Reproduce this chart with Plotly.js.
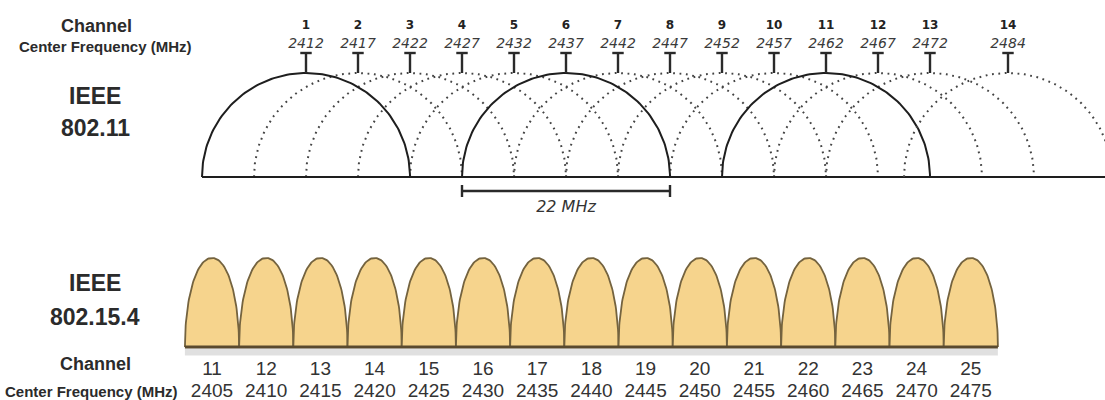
<!DOCTYPE html>
<html><head><meta charset="utf-8">
<script src="https://cdn.plot.ly/plotly-3.0.1.min.js"></script>
<style>html,body{margin:0;padding:0;background:#fff}</style>
</head><body>
<div id="chart" style="width:1105px;height:400px"></div>
<script>
// ---------- DATA ----------
// IEEE 802.11 (Wi-Fi) 2.4 GHz channels
const wifiChannels = [1, 2, 3, 4, 5, 6, 7, 8, 9, 10, 11, 12, 13, 14];
const wifiFreqs = [2412, 2417, 2422, 2427, 2432, 2437, 2442, 2447, 2452, 2457, 2462, 2467, 2472, 2484];
const wifiSolidChannels = [1, 6, 11];
const wifiHalfWidth = 10;          // drawn half-width of each channel arc (MHz)
const wifiBandLabel = '22 MHz';
const wifiBandChannel = 6;
// IEEE 802.15.4 channels
const zbChannels = [11, 12, 13, 14, 15, 16, 17, 18, 19, 20, 21, 22, 23, 24, 25];
const zbFreqs = [2405, 2410, 2415, 2420, 2425, 2430, 2435, 2440, 2445, 2450, 2455, 2460, 2465, 2470, 2475];
const zbHalfWidth = 2.5;           // MHz

// ---------- LAYOUT CONSTANTS (pixels) ----------
const W = 1105, H = 400;
const splitPx = 220;
const topPx0 = 306, topPxPerMHz = 10.4, topBasePx = 177, topUnitPx = 104;
const botPx0 = 212, botPxPerMHz = 10.84, botBasePx = 347, botUnitPx = 89;
const ch14Spacing = 7.5; // channel 14 drawn 1.5 spacings after channel 13 (compressed gap)

const xTopRange = [wifiFreqs[0] - topPx0 / topPxPerMHz, wifiFreqs[0] + (W - topPx0) / topPxPerMHz];
const last = wifiFreqs.length - 1;
const ch14Shift = wifiFreqs[last] - (wifiFreqs[last - 1] + ch14Spacing);
const xTop14Range = xTopRange.map(v => v + ch14Shift);
const yTopRange = [(topBasePx - splitPx) / topUnitPx, topBasePx / topUnitPx];
const xBotRange = [zbFreqs[0] - botPx0 / botPxPerMHz, zbFreqs[0] + (W - botPx0) / botPxPerMHz];
const yBotRange = [(botBasePx - H) / botUnitPx, (botBasePx - splitPx) / botUnitPx];
const pyTop = px => (topBasePx - px) / topUnitPx;
const pyBot = px => (botBasePx - px) / botUnitPx;

function arc(fc, hw) {
  const xs = [], ys = [];
  for (let i = 0; i <= 120; i++) {
    const t = Math.PI * (1 - i / 120);
    xs.push(fc + hw * Math.cos(t));
    ys.push(Math.sin(t));
  }
  return [xs, ys];
}
function bump(fc, hw) {
  const xs = [], ys = [];
  for (let i = 0; i <= 80; i++) {
    const t = Math.PI * (1 - i / 80);
    const u = Math.cos(t);
    xs.push(fc + hw * u);
    ys.push(Math.pow(Math.max(0, 1 - Math.pow(Math.abs(u), 2.1)), 0.5));
  }
  return [xs, ys];
}

const traces = [];

// --- Wi-Fi arcs ---
function arcTrace(idxs, axis, solid) {
  const xs = [], ys = [];
  idxs.forEach(i => { const [ax, ay] = arc(wifiFreqs[i], wifiHalfWidth); xs.push(...ax, null); ys.push(...ay, null); });
  return { x: xs, y: ys, xaxis: axis, yaxis: 'y', mode: 'lines', hoverinfo: 'skip',
    line: solid ? { color: '#1e1e1e', width: 2 } : { color: '#444', width: 2, dash: '1.8px,4.6px' } };
}
const idxMain = wifiChannels.map((c, i) => i).filter(i => i < last);
const dottedMain = idxMain.filter(i => !wifiSolidChannels.includes(wifiChannels[i]));
const solidMain = idxMain.filter(i => wifiSolidChannels.includes(wifiChannels[i]));
traces.push(arcTrace(dottedMain, 'x', false));
traces.push(arcTrace([last], 'x3', false));
traces.push(arcTrace(solidMain, 'x', true));

// baseline
traces.push({ x: [wifiFreqs[0] - wifiHalfWidth, xTopRange[1] + 2], y: [0, 0], xaxis: 'x', yaxis: 'y',
  mode: 'lines', line: { color: '#1e1e1e', width: 2.2 }, hoverinfo: 'skip' });

// T markers
function tTrace(idxs, axis) {
  const xs = [], ys = [];
  const top = pyTop(53), capHalf = 0.55;
  idxs.forEach(i => {
    const f = wifiFreqs[i];
    xs.push(f, f, null, f - capHalf, f + capHalf, null);
    ys.push(1, top, null, top, top, null);
  });
  return { x: xs, y: ys, xaxis: axis, yaxis: 'y', mode: 'lines', line: { color: '#2a2a2a', width: 2.4 }, hoverinfo: 'skip' };
}
traces.push(tTrace(idxMain, 'x'));
traces.push(tTrace([last], 'x3'));

// labels
function labTrace(idxs, axis) {
  return [
    { x: idxs.map(i => wifiFreqs[i]), y: idxs.map(() => pyTop(25.5)), text: idxs.map(i => String(wifiChannels[i])),
      xaxis: axis, yaxis: 'y', mode: 'text', cliponaxis: false, hoverinfo: 'skip',
      textfont: { family: 'DejaVu Sans', size: 12, color: '#222', weight: 'bold' } },
    { x: idxs.map(i => wifiFreqs[i]), y: idxs.map(() => pyTop(44)), text: idxs.map(i => String(wifiFreqs[i])),
      xaxis: axis, yaxis: 'y', mode: 'text', cliponaxis: false, hoverinfo: 'skip',
      textfont: { family: 'DejaVu Sans', size: 14, color: '#3a3a3a', style: 'italic' } }
  ];
}
traces.push(...labTrace(idxMain, 'x'));
traces.push(...labTrace([last], 'x3'));

// 22 MHz bracket
const bandF = wifiFreqs[wifiChannels.indexOf(wifiBandChannel)];
const by = pyTop(191), bc = 6 / topUnitPx;
traces.push({ x: [bandF - wifiHalfWidth, bandF + wifiHalfWidth, null, bandF - wifiHalfWidth, bandF - wifiHalfWidth, null, bandF + wifiHalfWidth, bandF + wifiHalfWidth],
  y: [by, by, null, by - bc, by + bc, null, by - bc, by + bc], xaxis: 'x', yaxis: 'y', mode: 'lines',
  line: { color: '#2a2a2a', width: 2.4 }, hoverinfo: 'skip' });
traces.push({ x: [bandF], y: [pyTop(208)], text: [wifiBandLabel], mode: 'text', xaxis: 'x', yaxis: 'y', cliponaxis: false,
  textfont: { family: 'DejaVu Sans', size: 16, color: '#333', style: 'italic' }, hoverinfo: 'skip' });

// --- 802.15.4 ---
const zbLeft = zbFreqs[0] - zbHalfWidth, zbRight = zbFreqs[zbFreqs.length - 1] + zbHalfWidth;
traces.push({ x: [zbLeft, zbRight], y: [pyBot(352), pyBot(352)], xaxis: 'x2', yaxis: 'y2', mode: 'lines',
  line: { color: 'rgba(0,0,0,0.12)', width: 7 }, hoverinfo: 'skip' });
zbFreqs.forEach(f => {
  const [bx, byy] = bump(f, zbHalfWidth);
  traces.push({ x: bx, y: byy, xaxis: 'x2', yaxis: 'y2', mode: 'lines', fill: 'toself',
    fillcolor: '#F6D48D', line: { color: '#74633f', width: 1.8 }, hoverinfo: 'skip' });
});
traces.push({ x: [zbLeft, zbRight], y: [0, 0], xaxis: 'x2', yaxis: 'y2', mode: 'lines',
  line: { color: '#5a4a2e', width: 3 }, hoverinfo: 'skip' });
traces.push({ x: zbFreqs, y: zbFreqs.map(() => pyBot(370)), text: zbChannels.map(String), xaxis: 'x2', yaxis: 'y2',
  mode: 'text', cliponaxis: false, hoverinfo: 'skip', textfont: { family: 'Liberation Sans', size: 19, color: '#333' } });
traces.push({ x: zbFreqs, y: zbFreqs.map(() => pyBot(392.5)), text: zbFreqs.map(String), xaxis: 'x2', yaxis: 'y2',
  mode: 'text', cliponaxis: false, hoverinfo: 'skip', textfont: { family: 'Liberation Sans', size: 19, color: '#333' } });

// --- left labels ---
const sans = 'Liberation Sans, Arial';
function ann(text, x, y, size) {
  return { text: text, x: x / W, y: 1 - y / H, xref: 'paper', yref: 'paper', showarrow: false,
    xanchor: 'center', yanchor: 'middle', font: { family: sans, size: size, color: '#2b2b2b', weight: 'bold' } };
}
const annotations = [
  ann('Channel', 97, 26, 18),
  ann('Center Frequency (MHz)', 105, 46, 15),
  ann('IEEE', 95, 96, 23),
  ann('802.11', 95, 128, 23),
  ann('IEEE', 95, 283, 23),
  ann('802.15.4', 95, 317, 23),
  ann('Channel', 95, 364, 18),
  ann('Center Frequency (MHz)', 91, 391, 15)
];

const hidden = { visible: false, fixedrange: true };
const layout = {
  width: W, height: H, margin: { l: 0, r: 0, t: 0, b: 0 }, showlegend: false,
  paper_bgcolor: '#fff', plot_bgcolor: 'rgba(0,0,0,0)',
  xaxis: Object.assign({ range: xTopRange, domain: [0, 1], anchor: 'y' }, hidden),
  xaxis3: Object.assign({ range: xTop14Range, overlaying: 'x', anchor: 'y' }, hidden),
  yaxis: Object.assign({ range: yTopRange, domain: [1 - splitPx / H, 1], anchor: 'x' }, hidden),
  xaxis2: Object.assign({ range: xBotRange, domain: [0, 1], anchor: 'y2' }, hidden),
  yaxis2: Object.assign({ range: yBotRange, domain: [0, 1 - splitPx / H], anchor: 'x2' }, hidden),
  annotations: annotations
};
Plotly.newPlot('chart', traces, layout, { staticPlot: true, displayModeBar: false });
</script>
</body></html>
